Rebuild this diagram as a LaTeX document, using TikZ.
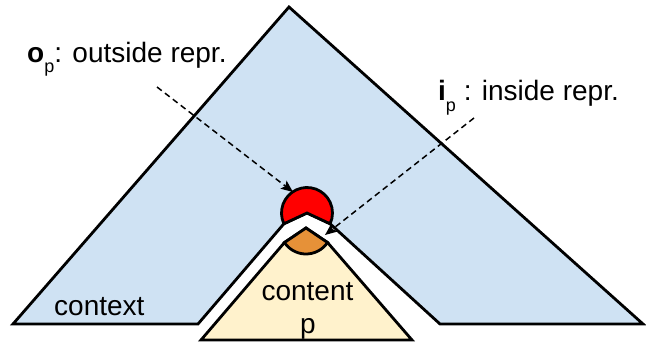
\documentclass[tikz,border=0pt]{standalone}
\usepackage{fontspec}
\setmainfont{Liberation Sans}
\usetikzlibrary{arrows.meta,calc}
\definecolor{ctxblue}{RGB}{207,226,243}
\definecolor{contyellow}{RGB}{255,242,204}
\definecolor{inorange}{RGB}{230,145,56}
\definecolor{outred}{RGB}{255,0,0}
\begin{document}
\begin{tikzpicture}[x=1pt,y=-1pt,line join=miter,
  outline/.style={draw=black,line width=2.8pt},
  lbl/.style={font=\fontsize{28}{32}\selectfont,inner sep=0pt},
  pointer/.style={line width=1.5pt,dash pattern=on 6pt off 4pt,
    -{Stealth[length=12pt,width=10pt,inset=2.5pt]}}]
\useasboundingbox (0,0) rectangle (646,345);
% key points
\coordinate (redc) at (307,213);
\coordinate (orc) at (306,228);
\coordinate (redL) at ($(redc)+(155:25.5)$);
\coordinate (redR) at ($(redc)+(25:25.5)$);
\coordinate (orL) at ($(orc)+(146:26)$);
\coordinate (orR) at ($(orc)+(34:26)$);
% context
\path[outline,fill=ctxblue] (13,324) -- (289,7) -- (643,324) -- (440,324)
  -- (redR) -- (redc) -- (redL) -- (198,324) -- cycle;
% outside representation
\path[outline,fill=outred] (redc) -- (redL) arc[start angle=155,end angle=385,radius=25.5] -- cycle;
% content
\path[outline,fill=contyellow] (201,340) -- (orL) -- (orc) -- (orR) -- (412,340) -- cycle;
% inside representation
\path[outline,fill=inorange] (orc) -- (orR) arc[start angle=34,end angle=146,radius=26] -- cycle;
% labels
\node[lbl,anchor=base west] (olabel) at (27,63)
  {\textbf{o}\raisebox{-10pt}{\fontsize{18}{18}\selectfont p}: outside repr.};
\node[lbl,anchor=base west] (ilabel) at (438,101)
  {\textbf{i}\raisebox{-10pt}{\fontsize{18}{18}\selectfont p} : inside repr.};
\node[lbl,anchor=base west] (ctxlabel) at (54,315) {context};
\node[lbl,anchor=base] (contlabel) at (307.5,300) {content};
\node[lbl,anchor=base] (plabel) at (308,333) {p};
% pointers
\coordinate (oStart) at (157,87);
\coordinate (oEnd) at (293,192);
\coordinate (iStart) at (474,118);
\coordinate (iEnd) at (325,235);
\draw[pointer] (oStart) -- (oEnd);
\draw[pointer] (iStart) -- (iEnd);
\end{tikzpicture}
\end{document}
